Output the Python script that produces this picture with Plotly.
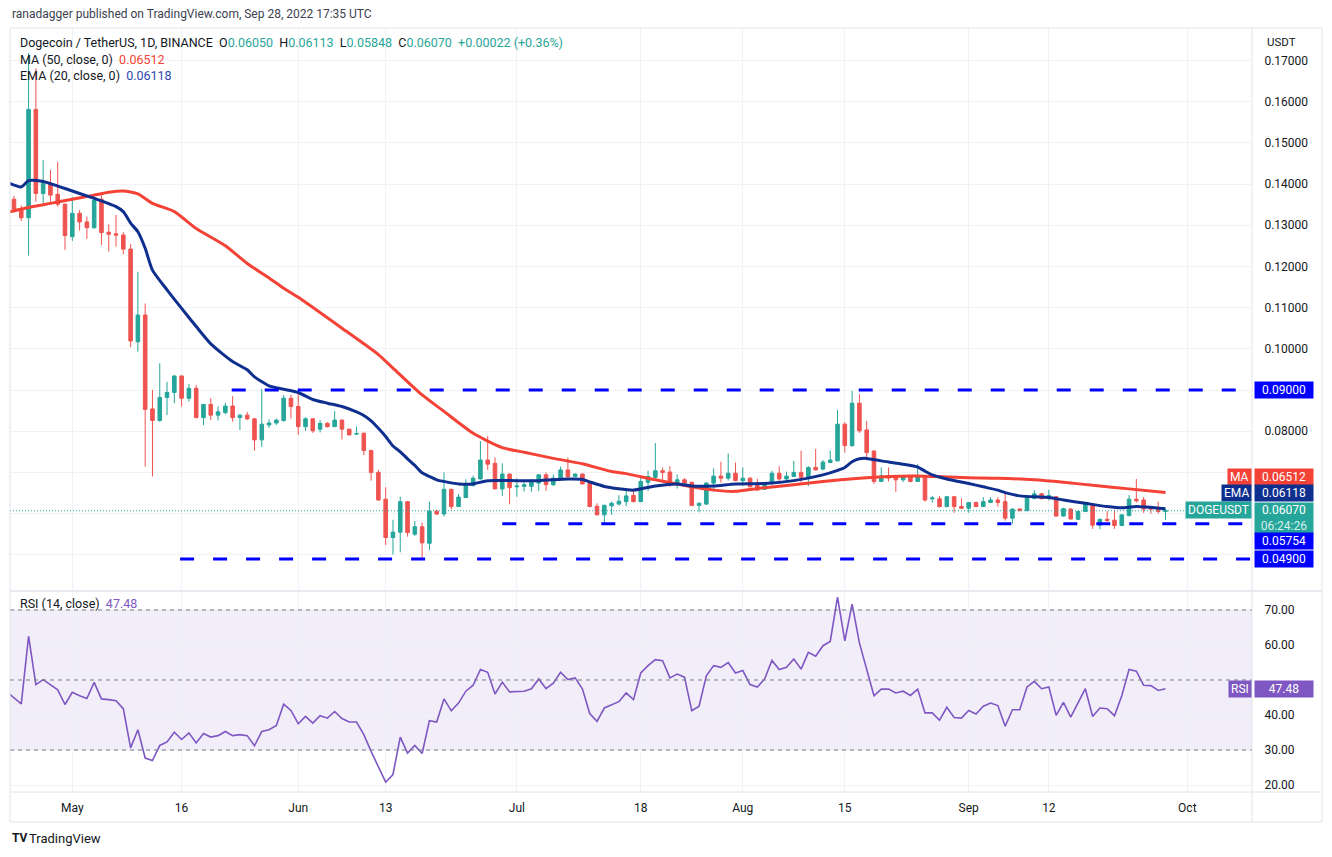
import pandas as pd
import plotly.graph_objects as go

# daily candles, Apr 23 .. Sep 28 2022
dates = pd.date_range("2022-04-23", "2022-09-28", freq="D")

opens = [
    .1363, .1339, .1318, .1581, .1377, .1401, .1375, .1351,
    .1272, .1329, .1308, .1294, .1363, .1283, .1279, .1276, .1242, .1017, .1082, .0854, .0826, .0882, .0894, .0934,
    .0880, .0904, .0833, .0865, .0839, .0845, .0861, .0833, .0839, .0830, .0779, .0815, .0820, .0826, .0880,
    .0860, .0811, .0830, .0805, .0819, .0811, .0827, .0805, .0793, .0795, .0753, .0700, .0635, .0542, .0555,
    .0629, .0550, .0568, .0528, .0606, .0599, .0659, .0617, .0639, .0668, .0684, .0730, .0722, .0660, .0696,
    .0665, .0666, .0666, .0674, .0694, .0670, .0685, .0706, .0690, .0696, .0673, .0618, .0597, .0619, .0623,
    .0629, .0644, .0629, .0676, .0688, .0704, .0701, .0671, .0682, .0676, .0620, .0623, .0674, .0691, .0686, .0698,
    .0680, .0686, .0668, .0659, .0672, .0698, .0684, .0690, .0700, .0688, .0712, .0708, .0724, .0728, .0817,
    .0765, .0868, .0803, .0752, .0678, .0692, .0689, .0682, .0691, .0678, .0690, .0636, .0636, .0617, .0641, .0617,
    .0613, .0627, .0617, .0627, .0633, .0629, .0589, .0611, .0607, .0637, .0648, .0638, .0641, .0594, .0611,
    .0586, .0605, .0623, .0572, .0586, .0584, .0571, .0595, .0635, .0633, .0613, .0612, .06050,
]
highs = [
    .1371, .1348, .1718, .1681, .1458, .1434, .1454, .1353,
    .1369, .1337, .1321, .1377, .1377, .1302, .1325, .1283, .1254, .1187, .1110, .0900, .0965, .0920, .0936, .0936,
    .0915, .0912, .0866, .0880, .0860, .0869, .0885, .0841, .0847, .0832, .0902, .0829, .0830, .0888, .0888,
    .0892, .0834, .0831, .0827, .0822, .0849, .0828, .0806, .0811, .0797, .0755, .0706, .0664, .0585, .0641,
    .0630, .0582, .0578, .0629, .0610, .0700, .0660, .0648, .0683, .0692, .0776, .0788, .0736, .0722, .0697,
    .0686, .0678, .0684, .0696, .0700, .0695, .0714, .0736, .0698, .0697, .0674, .0625, .0622, .0629, .0645,
    .0655, .0656, .0690, .0704, .0771, .0712, .0715, .0695, .0686, .0677, .0627, .0676, .0710, .0726, .0746, .0724,
    .0712, .0688, .0684, .0675, .0704, .0715, .0702, .0728, .0753, .0715, .0757, .0730, .0753, .0851, .0822,
    .0898, .0890, .0825, .0753, .0712, .0712, .0692, .0694, .0694, .0721, .0691, .0643, .0643, .0643, .0643, .0637,
    .0627, .0629, .0640, .0640, .0640, .0653, .0612, .0613, .0645, .0657, .0650, .0658, .0642, .0614, .0613,
    .0607, .0624, .0624, .0588, .0606, .0609, .0598, .0645, .0684, .0640, .0615, .0629, .06113,
]
lows = [
    .1330, .1310, .1226, .1357, .1353, .1357, .1345, .1240,
    .1262, .1287, .1267, .1291, .1252, .1236, .1248, .1229, .1004, .0993, .0714, .0690, .0823, .0839, .0868, .0860,
    .0872, .0831, .0815, .0827, .0826, .0841, .0823, .0803, .0827, .0753, .0762, .0808, .0815, .0823, .0831,
    .0791, .0801, .0796, .0797, .0809, .0810, .0780, .0790, .0791, .0742, .0680, .0632, .0524, .0501, .0506,
    .0544, .0546, .0491, .0512, .0597, .0593, .0610, .0616, .0638, .0666, .0683, .0706, .0659, .0643, .0623,
    .0641, .0654, .0653, .0655, .0655, .0667, .0684, .0685, .0688, .0671, .0616, .0596, .0577, .0597, .0620,
    .0618, .0628, .0628, .0655, .0682, .0682, .0665, .0661, .0671, .0619, .0603, .0621, .0655, .0675, .0680, .0679,
    .0667, .0664, .0656, .0658, .0671, .0675, .0676, .0689, .0676, .0667, .0705, .0705, .0723, .0727, .0748,
    .0762, .0796, .0737, .0672, .0677, .0678, .0653, .0677, .0676, .0677, .0629, .0627, .0615, .0615, .0602, .0612,
    .0602, .0616, .0616, .0626, .0617, .0583, .0575, .0606, .0607, .0635, .0635, .0632, .0593, .0593, .0586,
    .0585, .0605, .0563, .0562, .0580, .0563, .0570, .0594, .0627, .0602, .0600, .0600, .05848,
]
closes = [
    .1339, .1318, .1581, .1377, .1401, .1373, .1351, .1275,
    .1329, .1308, .1294, .1361, .1282, .1278, .1276, .1242, .1019, .1082, .0853, .0826, .0882, .0894, .0934, .0880,
    .0904, .0833, .0865, .0839, .0847, .0861, .0833, .0839, .0830, .0779, .0817, .0820, .0827, .0880, .0860,
    .0811, .0830, .0801, .0819, .0811, .0827, .0805, .0791, .0794, .0753, .0700, .0633, .0542, .0555, .0629,
    .0554, .0568, .0529, .0606, .0599, .0659, .0617, .0640, .0669, .0686, .0730, .0720, .0660, .0696, .0663,
    .0667, .0670, .0676, .0694, .0670, .0686, .0706, .0690, .0696, .0672, .0617, .0597, .0620, .0625, .0630,
    .0643, .0629, .0678, .0690, .0704, .0700, .0671, .0682, .0674, .0620, .0625, .0674, .0691, .0686, .0698, .0680,
    .0686, .0665, .0657, .0674, .0698, .0684, .0691, .0700, .0688, .0712, .0706, .0725, .0730, .0817, .0765,
    .0868, .0801, .0748, .0678, .0692, .0686, .0682, .0690, .0678, .0691, .0633, .0638, .0617, .0641, .0617, .0613,
    .0627, .0617, .0629, .0633, .0627, .0589, .0611, .0607, .0643, .0648, .0636, .0644, .0594, .0612, .0587,
    .0605, .0623, .0572, .0586, .0583, .0571, .0597, .0635, .0631, .0611, .0611, .0605, .06070,
]

# moving averages at sample dates
ma_dates = ["2022-04-22", "2022-04-25", "2022-04-28", "2022-05-01", "2022-05-04", "2022-05-06", "2022-05-08",
            "2022-05-10", "2022-05-12", "2022-05-15", "2022-05-18", "2022-05-22", "2022-05-25", "2022-05-28",
            "2022-05-30", "2022-06-01", "2022-06-07", "2022-06-12", "2022-06-14", "2022-06-18", "2022-06-21",
            "2022-06-25", "2022-06-29", "2022-07-02", "2022-07-06", "2022-07-10", "2022-07-14", "2022-07-16",
            "2022-07-20", "2022-07-25", "2022-07-28", "2022-07-31", "2022-08-03", "2022-08-07", "2022-08-12",
            "2022-08-17", "2022-08-21", "2022-08-25", "2022-09-01", "2022-09-05", "2022-09-10", "2022-09-14",
            "2022-09-19", "2022-09-23", "2022-09-28"]
ma_vals = [.1331, .1343, .1353, .1363, .1373, .1380, .1383, .1376, .1353, .1333, .1292, .1250, .1207, .1172,
           .1147, .1125, .1050, .0986, .0953, .0888, .0848, .0795, .0760, .0749, .0734, .0721, .0702, .0697,
           .0682, .0665, .0657, .0654, .0661, .0668, .0678, .0686, .0690, .0691, .0687, .0686, .0682, .0676,
           .0667, .0660, .06512]

ema_dates = ["2022-04-22", "2022-04-24", "2022-04-25", "2022-04-27", "2022-04-29", "2022-05-01", "2022-05-03",
             "2022-05-05", "2022-05-07", "2022-05-08", "2022-05-09", "2022-05-10", "2022-05-11", "2022-05-12",
             "2022-05-14", "2022-05-16", "2022-05-18", "2022-05-20", "2022-05-23", "2022-05-25", "2022-05-26",
             "2022-05-28", "2022-05-30", "2022-06-01", "2022-06-03", "2022-06-05", "2022-06-07", "2022-06-09",
             "2022-06-10", "2022-06-11", "2022-06-12", "2022-06-13", "2022-06-14", "2022-06-15", "2022-06-16",
             "2022-06-17", "2022-06-18", "2022-06-19", "2022-06-20", "2022-06-23", "2022-06-25", "2022-06-27",
             "2022-07-01", "2022-07-04", "2022-07-08", "2022-07-10", "2022-07-11", "2022-07-13", "2022-07-17",
             "2022-07-20", "2022-07-23", "2022-07-25", "2022-07-28", "2022-07-31", "2022-08-04", "2022-08-08",
             "2022-08-12", "2022-08-14", "2022-08-15", "2022-08-16", "2022-08-17", "2022-08-18", "2022-08-20",
             "2022-08-23", "2022-08-25", "2022-08-26", "2022-08-27", "2022-08-29", "2022-09-01", "2022-09-03",
             "2022-09-05", "2022-09-06", "2022-09-08", "2022-09-12", "2022-09-14", "2022-09-17", "2022-09-20",
             "2022-09-22", "2022-09-24", "2022-09-28"]
ema_vals = [.1404, .1393, .1408, .1406, .1395, .1383, .1371, .1359, .1345, .1333, .1305, .1284, .1244, .1191,
            .1143, .1098, .1054, .1012, .0969, .0949, .0932, .0910, .0902, .0894, .0877, .0868, .0860, .0847,
            .0838, .0825, .0807, .0787, .0764, .0750, .0733, .0717, .0699, .0690, .0682, .0672, .0672, .0680,
            .0680, .0680, .0684, .0683, .0677, .0666, .0657, .0667, .0672, .0667, .0667, .0672, .0673, .0680,
            .0694, .0705, .0712, .0726, .0733, .0734, .0728, .0720, .0713, .0703, .0694, .0684, .0673, .0665,
            .0657, .0651, .0643, .0639, .0633, .0625, .0617, .0614, .0617, .06118]

# RSI(14), daily from Apr 22
rsi_dates = pd.date_range("2022-04-22", "2022-09-28", freq="D")
rsi_vals = [
    46.6, 45.0, 43.2, 62.5, 48.7, 50.1, 48.7, 47.2, 43.0,
    46.5, 45.5, 44.7, 49.3, 44.6, 44.4, 44.1, 41.8, 30.6, 35.8, 27.7, 27.0, 31.3, 32.3, 35.1, 33.0,
    34.9, 32.0, 34.7, 33.7, 34.1, 35.3, 34.1, 34.4, 34.1, 31.2, 35.3, 35.8, 37.0, 43.1, 41.3,
    37.5, 39.6, 37.7, 39.8, 39.1, 41.0, 39.0, 38.0, 38.0, 34.4, 29.6, 25.3, 20.8, 23.0, 33.7,
    29.1, 31.3, 29.0, 38.4, 38.0, 44.6, 41.2, 43.4, 46.8, 48.5, 53.0, 52.2, 46.0, 49.4, 46.6,
    46.6, 46.8, 47.5, 50.3, 47.5, 49.1, 52.2, 50.1, 50.6, 47.4, 40.4, 38.2, 42.0, 43.0, 43.8,
    46.3, 44.4, 52.0, 54.1, 55.8, 55.5, 50.6, 51.7, 50.8, 41.2, 42.5, 51.2, 54.1, 53.6, 55.0, 52.0,
    52.7, 48.7, 48.0, 50.3, 55.6, 53.0, 53.6, 56.0, 53.1, 57.9, 56.8, 59.8, 61.0, 73.7, 61.2,
    71.7, 60.6, 53.0, 45.5, 47.4, 47.4, 46.3, 46.8, 45.6, 47.4, 40.6, 40.6, 38.5, 42.2, 39.3, 39.1,
    41.3, 40.3, 42.5, 43.4, 42.7, 36.8, 41.5, 41.5, 48.0, 49.6, 47.5, 48.0, 39.9, 43.6, 39.4,
    43.4, 47.5, 39.6, 42.0, 41.8, 39.8, 45.5, 53.0, 52.5, 48.5, 48.4, 47.0, 47.48,
]

levels = [0.09, 0.05754, 0.049]
level_starts = ["2022-05-22 21:00", "2022-06-29 00:00", "2022-05-15 19:00"]
last_price = 0.0607

tick_dates = ["2022-05-01", "2022-05-16", "2022-06-01", "2022-06-13", "2022-07-01", "2022-07-18",
              "2022-08-01", "2022-08-15", "2022-09-01", "2022-09-12", "2022-10-01"]
tick_text = ["May", "16", "Jun", "13", "Jul", "18", "Aug", "15", "Sep", "12", "Oct"]
price_ticks = [0.05, 0.06, 0.07, 0.08, 0.09, 0.10, 0.11, 0.12, 0.13, 0.14, 0.15, 0.16, 0.17]
price_hidden = [0.05, 0.06, 0.07]          # covered by the price tags on the right
rsi_ticks = [20, 30, 40, 50, 60, 70]
rsi_hidden = [50]

GREEN = "#26a69a"
RED = "#ef5350"
MA_RED = "#f44336"
NAVY = "#0f2f8f"
LEVEL_BLUE = "#0000ff"
PURPLE = "#7e57c2"
TXT = "#131722"
GRID = "#f0f2f6"
BORDER = "#e0e3eb"
FONT = "Roboto, Liberation Sans, sans-serif"

# page body has an 8px margin, so the figure is drawn 8px in from the top-left
OFF = 8
W, H = 1332 - 2 * OFF, 857 - 2 * OFF
L, R, T, B = 10, 1252, 28, 792          # plot box in screenshot pixels


def px(x):
    return (x - L) / (R - L)


def py(y):
    return (B - y) / (B - T)


fig = go.Figure()
fig.add_trace(go.Candlestick(
    x=dates, open=opens, high=highs, low=lows, close=closes,
    increasing=dict(line=dict(color=GREEN, width=1), fillcolor=GREEN),
    decreasing=dict(line=dict(color=RED, width=1), fillcolor=RED),
    xaxis="x", yaxis="y", hoverinfo="skip", showlegend=False,
))
fig.add_trace(go.Scatter(x=ma_dates, y=ma_vals, mode="lines",
                         line=dict(color=MA_RED, width=3, shape="spline", smoothing=0.6),
                         xaxis="x", yaxis="y", showlegend=False, hoverinfo="skip"))
fig.add_trace(go.Scatter(x=ema_dates, y=ema_vals, mode="lines",
                         line=dict(color=NAVY, width=3, shape="spline", smoothing=0.6),
                         xaxis="x", yaxis="y", showlegend=False, hoverinfo="skip"))
fig.add_trace(go.Scatter(x=rsi_dates, y=rsi_vals, mode="lines",
                         line=dict(color=PURPLE, width=1.6),
                         xaxis="x2", yaxis="y2", showlegend=False, hoverinfo="skip"))

x_range = ["2022-04-22 10:51", "2022-10-09 20:53"]
xcommon = dict(range=x_range, type="date", tickvals=tick_dates, showgrid=True, gridcolor=GRID,
               zeroline=False, showline=False, fixedrange=True)
fig.update_layout(
    width=W, height=H,
    margin=dict(l=L - OFF, r=W - (R - OFF), t=T - OFF, b=H - (B - OFF)),
    paper_bgcolor="white", plot_bgcolor="white",
    font=dict(family=FONT, color=TXT, size=12),
    xaxis=dict(**xcommon, anchor="y", showticklabels=False, rangeslider=dict(visible=False)),
    xaxis2=dict(**xcommon, anchor="y2", matches="x", ticktext=tick_text, ticks="outside", ticklen=5,
                tickcolor="rgba(0,0,0,0)", tickfont=dict(size=12, color=TXT)),
    yaxis=dict(domain=[py(590), 1], range=[0.09 - 200 / 4120, 0.09 + 362 / 4120], side="right",
               tickvals=price_ticks,
               ticktext=["" if v in price_hidden else f"{v:.5f}" for v in price_ticks],
               showgrid=True, gridcolor=GRID, zeroline=False, ticks="outside", ticklen=9,
               tickcolor="rgba(0,0,0,0)", tickfont=dict(size=12, color=TXT), fixedrange=True),
    yaxis2=dict(domain=[0, py(592)], range=[18.0, 75.14], side="right", tickvals=rsi_ticks,
                ticktext=["" if v in rsi_hidden else f"{v:.2f}" for v in rsi_ticks],
                showgrid=True, gridcolor=GRID, zeroline=False,
                ticks="outside", ticklen=9, tickcolor="rgba(0,0,0,0)",
                tickfont=dict(size=12, color=TXT), fixedrange=True),
    hovermode=False,
)

shapes = []
# RSI band and guide lines
shapes.append(dict(type="rect", xref="paper", yref="y2", x0=0, x1=1, y0=30, y1=70,
                   fillcolor="rgba(126,87,194,0.1)", line=dict(width=0), layer="below"))
for lv in (70, 50, 30):
    shapes.append(dict(type="line", xref="paper", yref="y2", x0=0, x1=1, y0=lv, y1=lv,
                       line=dict(color="#787b86", width=1, dash="4px,4px")))
# support / resistance levels
for lv, start in zip(levels, level_starts):
    shapes.append(dict(type="line", xref="x", yref="y", x0=start, x1="2022-10-09 20:00", y0=lv, y1=lv,
                       line=dict(color=LEVEL_BLUE, width=3, dash="14px,19px")))
# last price dotted line
shapes.append(dict(type="line", xref="paper", yref="y", x0=0, x1=1, y0=last_price, y1=last_price,
                   line=dict(color=GREEN, width=1, dash="1px,2px")))
# frame and separators
shapes.append(dict(type="rect", xref="paper", yref="paper", x0=0, x1=px(1322), y0=py(822), y1=1,
                   line=dict(color=BORDER, width=1)))
shapes.append(dict(type="line", xref="paper", yref="paper", x0=1, x1=1, y0=py(822), y1=1,
                   line=dict(color=BORDER, width=1)))
shapes.append(dict(type="line", xref="paper", yref="paper", x0=0, x1=px(1322), y0=0, y1=0,
                   line=dict(color=BORDER, width=1)))
shapes.append(dict(type="line", xref="paper", yref="paper", x0=0, x1=px(1322), y0=py(591), y1=py(591),
                   line=dict(color=BORDER, width=1.5)))
fig.update_layout(shapes=shapes)

ann = []


def text(x, y, s, size=12, color=TXT, xanchor="left"):
    ann.append(dict(xref="paper", yref="paper", x=px(x), y=py(y), text=s, showarrow=False,
                    xanchor=xanchor, yanchor="middle", font=dict(size=size, color=color, family=FONT)))


def col(s, c):
    return f"<span style='color:{c}'>{s}</span>"


sp = "\u00a0\u00a0"
text(10, 14, "ranadagger published on TradingView.com, Sep 28, 2022 17:35 UTC", size=12, color="#3d4150")
text(18, 42, "Dogecoin / TetherUS, 1D, BINANCE" + sp + "O" + col("0.06050", GREEN) + sp + "H"
     + col("0.06113", GREEN) + sp + "L" + col("0.05848", GREEN) + sp + "C" + col("0.06070", GREEN)
     + sp + col("+0.00022 (+0.36%)", GREEN), size=12.5)
text(18, 59, "MA (50, close, 0)" + sp + col("0.06512", MA_RED), size=12.5)
text(18, 75, "EMA (20, close, 0)" + sp + col("0.06118", "#2c48b0"), size=12.5)
text(18, 603, "RSI (14, close)" + sp + col("47.48", PURPLE), size=12.5)
text(1265, 42, "USDT", size=11.5)
text(27, 838, "TradingView", size=13, color=TXT)
text(10, 838, "<b>TV</b>", size=12, color=TXT)


def value_box(yc, s, bg, h=12, yanchor="middle"):
    ann.append(dict(xref="paper", yref="paper", x=px(1254), y=py(yc), text=s, showarrow=False,
                    xanchor="left", yanchor=yanchor, bgcolor=bg, width=54, height=h, borderpad=2,
                    align="center", font=dict(size=12, color="white", family=FONT)))


def tag(yc, s, bg):
    ann.append(dict(xref="paper", yref="paper", x=px(1252), y=py(yc), text=s, showarrow=False,
                    xanchor="right", yanchor="middle", bgcolor=bg, height=12, borderpad=2,
                    font=dict(size=12, color="white", family=FONT)))


value_box(389.5, "0.09000", LEVEL_BLUE)
tag(476.7, "MA", MA_RED)
value_box(476.7, "0.06512", MA_RED)
tag(493.3, "EMA", NAVY)
value_box(493.3, "0.06118", NAVY)
tag(510.3, "DOGEUSDT", GREEN)
value_box(502.3, "0.06070<br>" + col("06:24:26", "#d6f0ed"), GREEN, h=26, yanchor="top")
value_box(541.3, "0.05754", LEVEL_BLUE)
value_box(558.8, "0.04900", LEVEL_BLUE)
tag(688.8, "RSI", PURPLE)
value_box(688.8, "47.48", PURPLE)

fig.update_layout(annotations=ann)
fig.write_html("out.html", config={"displayModeBar": False})
